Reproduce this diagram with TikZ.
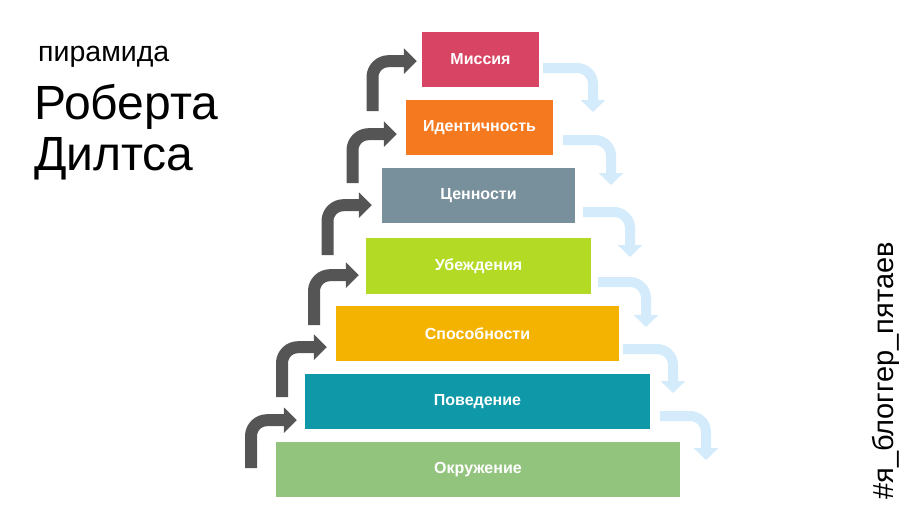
\documentclass[tikz,border=0pt]{standalone}
\usepackage{fontspec}
\setmainfont{Liberation Sans}
\usepackage{xcolor}
\usepackage{tikz}
\usetikzlibrary{positioning,arrows.meta}

\definecolor{missiacol}{HTML}{D84463}
\definecolor{identcol}{HTML}{F57A1F}
\definecolor{tsennostcol}{HTML}{78909C}
\definecolor{ubezhdcol}{HTML}{B3DA24}
\definecolor{sposobcol}{HTML}{F5B301}
\definecolor{povedcol}{HTML}{0E98A8}
\definecolor{okruzhcol}{HTML}{93C47D}
\definecolor{upcol}{HTML}{555555}
\definecolor{downcol}{HTML}{D3EBFA}

\begin{document}
\begin{tikzpicture}[x=1pt, y=-1pt,
    level/.style={draw=none, inner sep=0, minimum height=55pt, text=white,
        font=\bfseries\fontsize{16}{19}\selectfont},
    uparrow/.style={upcol, line width=12pt, rounded corners=16pt,
        -{Triangle[length=13pt, width=25pt]}},
    downarrow/.style={downcol, line width=10pt, rounded corners=16pt,
        -{Triangle[length=12pt, width=24pt]}}]
    \useasboundingbox (0,0) rectangle (918,530);

    % Заголовок
    \node[anchor=base west, inner sep=0, font=\fontsize{28.5}{32}\selectfont] (pyramid) at (38,61) {пирамида};
    \node[anchor=base west, inner sep=0, font=\fontsize{48}{54}\selectfont] (robert) at (34,119.5) {Роберта};
    \node[anchor=base west, inner sep=0, font=\fontsize{48}{54}\selectfont] (dilts) at (34,170) {Дилтса};

    % Уровни
    \node[level, fill=missiacol, minimum width=117pt] (missia) at (480.5,59.5) {Миссия};
    \node[level, fill=identcol, minimum width=147pt] (ident) at (479.5,127.5) {Идентичность};
    \node[level, fill=tsennostcol, minimum width=193pt] (tsennost) at (478.5,195.5) {Ценности};
    \node[level, fill=ubezhdcol, minimum width=225pt, minimum height=56pt] (ubezhd) at (478.5,266) {Убеждения};
    \node[level, fill=sposobcol, minimum width=283pt] (sposob) at (477.5,333.5) {Способности};
    \node[level, fill=povedcol, minimum width=345pt] (poved) at (477.5,401.5) {Поведение};
    \node[level, fill=okruzhcol, minimum width=404pt] (okruzh) at (478,469.5) {Окружение};

    % Стрелки вверх
    \coordinate (up1) at (251,468);
    \coordinate (up2) at (282,397);
    \coordinate (up3) at (314,325);
    \coordinate (up4) at (327.5,255);
    \coordinate (up5) at (352.5,183);
    \coordinate (up6) at (372.5,111);
    \draw[uparrow] (up1) |- ([shift={(-8,-9)}]poved.south west);
    \draw[uparrow] (up2) |- ([shift={(-9,-14)}]sposob.south west);
    \draw[uparrow] (up3) |- ([shift={(-7,-19)}]ubezhd.south west);
    \draw[uparrow] (up4) |- ([shift={(-10,-18)}]tsennost.south west);
    \draw[uparrow] (up5) |- ([shift={(-9,-21)}]ident.south west);
    \draw[uparrow] (up6) |- ([shift={(-5,-26)}]missia.south west);

    % Стрелки вниз
    \coordinate (dn1) at (593,112);
    \coordinate (dn2) at (611,185);
    \coordinate (dn3) at (630,257);
    \coordinate (dn4) at (646,327);
    \coordinate (dn5) at (673,393);
    \coordinate (dn6) at (706,460);
    \draw[downarrow] ([shift={(4,8.5)}]missia.east) -| (dn1);
    \draw[downarrow] ([shift={(10,12.5)}]ident.east) -| (dn2);
    \draw[downarrow] ([shift={(8,16.5)}]tsennost.east) -| (dn3);
    \draw[downarrow] ([shift={(7,16)}]ubezhd.east) -| (dn4);
    \draw[downarrow] ([shift={(4,15.5)}]sposob.east) -| (dn5);
    \draw[downarrow] ([shift={(10,14.5)}]poved.east) -| (dn6);

    % Хэштег
    \node[anchor=base west, inner sep=0, rotate=90, font=\fontsize{29}{32}\selectfont] (tag) at (893,500) {\#я\_блоггер\_пятаев};
\end{tikzpicture}
\end{document}
